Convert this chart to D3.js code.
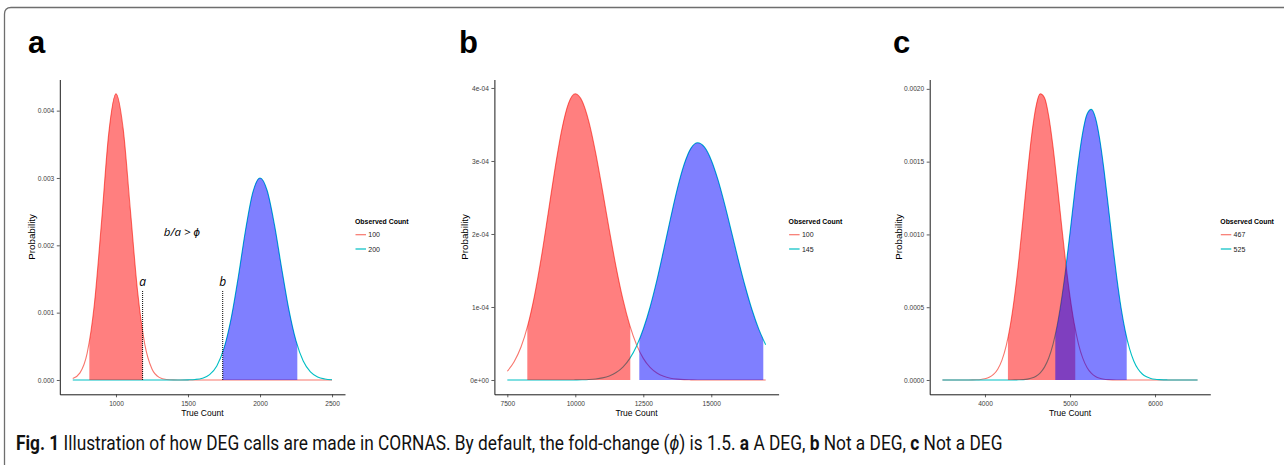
<!DOCTYPE html>
<html>
<head>
<meta charset="utf-8">
<script src="https://cdnjs.cloudflare.com/ajax/libs/d3/7.8.5/d3.min.js"></script>
<style>
body { margin: 0; background: #fff; }
svg { display: block; }
</style>
</head>
<body>
<div id="fig"></div>
<script>
// values (density of true count for each observed count)

// panel a
var aX = [700, 750, 800, 850, 900, 950, 1000, 1050, 1100, 1150, 1200, 1250, 1300, 1350, 1400, 1450,
  1500, 1550, 1600, 1650, 1700, 1750, 1800, 1850, 1900, 1950, 2000, 2050, 2100, 2150, 2200, 2250,
  2300, 2350, 2400, 2450, 2500];
var aRed = [2.1e-5, 1.06e-4, 4.0e-4, 1.125e-3, 2.354e-3, 3.667e-3, 4.25e-3, 3.73e-3, 2.525e-3, 1.317e-3,
  5.3e-4, 1.64e-4, 3.9e-5, 7e-6, 1e-6, 0, 0, 0, 0, 0, 0, 0, 0, 0, 0, 0, 0, 0, 0, 0, 0, 0, 0, 0, 0, 0, 0];
var aBlue = [0, 0, 0, 0, 0, 0, 0, 0, 0, 0, 0, 0, 0, 0, 0, 0, 2e-6, 7.5e-6, 2.6e-5, 8.0e-5, 2.09e-4,
  4.72e-4, 9.19e-4, 1.541e-3, 2.231e-3, 2.786e-3, 3.0e-3, 2.81e-3, 2.307e-3, 1.662e-3, 1.05e-3,
  5.81e-4, 2.82e-4, 1.2e-4, 4.5e-5, 1.5e-5, 4e-6];
var aRedFill = [815, 1185];
var aBlueFill = [1741, 2259];
var aLegend = ["100", "200"];
var aXTicks = [1000, 1500, 2000, 2500];
var aYTicks = [0, 0.001, 0.002, 0.003, 0.004];
var aYLabels = ["0.000", "0.001", "0.002", "0.003", "0.004"];
var aMarks = [{x: 1185, top: 0.00133, label: "a"}, {x: 1741, top: 0.00133, label: "b"}];
var aNote = {x: 1457, y: 0.0022};

// panel b
var bX = [7500, 7750, 8000, 8250, 8500, 8750, 9000, 9250, 9500, 9750, 10000, 10250, 10500, 10750,
  11000, 11250, 11500, 11750, 12000, 12250, 12500, 12750, 13000, 13250, 13500, 13750, 14000, 14250,
  14500, 14750, 15000, 15250, 15500, 15750, 16000, 16250, 16500, 16750, 17000];
var bRed = [1.2e-5, 2.5e-5, 4.48e-5, 7.45e-5, 1.157e-4, 1.679e-4, 2.279e-4, 2.889e-4, 3.423e-4, 3.789e-4,
  3.92e-4, 3.82e-4, 3.535e-4, 3.107e-4, 2.593e-4, 2.055e-4, 1.547e-4, 1.106e-4, 7.51e-5, 4.84e-5,
  2.96e-5, 1.72e-5, 9.5e-6, 5.0e-6, 2.5e-6, 1.2e-6, 5e-7, 2e-7, 0, 0, 0, 0, 0, 0, 0, 0, 0, 0, 0];
var bBlue = [0, 0, 0, 0, 0, 0, 0, 0, 0, 0, 1.3e-7, 3.1e-7, 6.9e-7, 1.45e-6, 2.92e-6, 5.6e-6, 1.02e-5,
  1.77e-5, 2.93e-5, 4.63e-5, 6.98e-5, 1.0e-4, 1.367e-4, 1.783e-4, 2.212e-4, 2.618e-4, 2.952e-4,
  3.173e-4, 3.25e-4, 3.189e-4, 3.011e-4, 2.737e-4, 2.395e-4, 2.018e-4, 1.636e-4, 1.277e-4, 9.59e-5,
  6.93e-5, 4.83e-5];
var bRedFill = [8235, 12022];
var bBlueFill = [12353, 16912];
var bLegend = ["100", "145"];
var bXTicks = [7500, 10000, 12500, 15000];
var bYTicks = [0, 1e-4, 2e-4, 3e-4, 4e-4];
var bYLabels = ["0e+00", "1e-04", "2e-04", "3e-04", "4e-04"];

// panel c
var cX = [3500, 3550, 3600, 3650, 3700, 3750, 3800, 3850, 3900, 3950, 4000, 4050, 4100, 4150, 4200,
  4250, 4300, 4350, 4400, 4450, 4500, 4550, 4600, 4650, 4700, 4750, 4800, 4850, 4900, 4950, 5000,
  5050, 5100, 5150, 5200, 5250, 5300, 5350, 5400, 5450, 5500, 5550, 5600, 5650, 5700, 5750, 5800,
  5850, 5900, 5950, 6000, 6050, 6100, 6150, 6200, 6250, 6300, 6350, 6400, 6450, 6500];
var cRed = [0, 0, 0, 0, 0, 0, 1.8e-7, 5.2e-7, 1.4e-6, 3.5e-6, 8.2e-6, 1.82e-5, 3.8e-5, 7.43e-5, 1.367e-4,
  2.36e-4, 3.83e-4, 5.84e-4, 8.35e-4, 1.123e-3, 1.419e-3, 1.684e-3, 1.878e-3, 1.966e-3, 1.939e-3,
  1.812e-3, 1.603e-3, 1.344e-3, 1.068e-3, 8.03e-4, 5.73e-4, 3.87e-4, 2.47e-4, 1.5e-4, 8.6e-5, 4.68e-5,
  2.41e-5, 1.18e-5, 5.4e-6, 2.4e-6, 1.0e-6, 4e-7, 1.5e-7, 0, 0, 0, 0, 0, 0, 0, 0, 0, 0, 0, 0, 0, 0,
  0, 0, 0, 0];
var cBlue = [0, 0, 0, 0, 0, 0, 0, 0, 0, 0, 0, 0, 0, 0, 0, 7e-8, 1.9e-7, 4.9e-7, 1.2e-6, 2.8e-6, 6.2e-6,
  1.3e-5, 2.6e-5, 4.92e-5, 8.84e-5, 1.51e-4, 2.45e-4, 3.77e-4, 5.52e-4, 7.66e-4, 1.01e-3, 1.266e-3,
  1.506e-3, 1.701e-3, 1.825e-3, 1.859e-3, 1.799e-3, 1.652e-3, 1.442e-3, 1.195e-3, 9.4e-4, 7.03e-4,
  4.98e-4, 3.36e-4, 2.15e-4, 1.31e-4, 7.5e-5, 4.1e-5, 2.15e-5, 1.06e-5, 5.0e-6, 2.2e-6, 9e-7, 4e-7,
  1.5e-7, 0, 0, 0, 0, 0, 0];
var cRedFill = [4270, 5062];
var cBlueFill = [4827, 5667];
var cLegend = ["467", "525"];
var cXTicks = [4000, 5000, 6000];
var cYTicks = [0, 0.0005, 0.001, 0.0015, 0.002];
var cYLabels = ["0.0000", "0.0005", "0.0010", "0.0015", "0.0020"];

var panels = [
  {letter: "a", x: aX, red: aRed, blue: aBlue, redFill: aRedFill, blueFill: aBlueFill, legend: aLegend,
    xTicks: aXTicks, yTicks: aYTicks, yLabels: aYLabels, marks: aMarks, note: aNote,
    left: 59.8, right: 345, letterX: 28},
  {letter: "b", x: bX, red: bRed, blue: bBlue, redFill: bRedFill, blueFill: bBlueFill, legend: bLegend,
    xTicks: bXTicks, yTicks: bYTicks, yLabels: bYLabels, marks: [], note: null,
    left: 494.4, right: 778.6, letterX: 459},
  {letter: "c", x: cX, red: cRed, blue: cBlue, redFill: cRedFill, blueFill: cBlueFill, legend: cLegend,
    xTicks: cXTicks, yTicks: cYTicks, yLabels: cYLabels, marks: [], note: null,
    left: 929.7, right: 1210.3, letterX: 893}
];

var W = 1284, H = 465, TOP = 79.5, BOTTOM = 394.3;
var RED_LINE = "#F8766D", BLUE_LINE = "#00BFC4";
var FONT = "'Liberation Sans', Arial, Helvetica, sans-serif";

var svg = d3.select("#fig").append("svg")
  .attr("width", W)
  .attr("height", H)
  .style("background", "#fff");

// figure frame
svg.append("path")
  .attr("d", "M4.5," + H + "V14Q4.5,7.5 11,7.5H" + W)
  .attr("fill", "none")
  .attr("stroke", "#6e6e6e")
  .attr("stroke-width", 1.3);

panels.forEach(function(p, pi) {
  var ymax = d3.max(p.red.concat(p.blue));
  var xext = d3.extent(p.x);
  var xpad = (xext[1] - xext[0]) * 0.05, ypad = ymax * 0.05;
  var x = d3.scaleLinear().domain([xext[0] - xpad, xext[1] + xpad]).range([p.left, p.right]);
  var y = d3.scaleLinear().domain([-ypad, ymax + ypad]).range([BOTTOM, TOP]);
  var g = svg.append("g");

  g.append("text")
    .attr("x", p.letterX)
    .attr("y", 53)
    .style("font-family", FONT)
    .style("font-weight", "bold")
    .style("font-size", "31px")
    .text(p.letter);

  var redPts = p.x.map(function(v, i) { return [v, p.red[i]]; });
  var bluePts = p.x.map(function(v, i) { return [v, p.blue[i]]; });

  var line = d3.line()
    .x(function(d) { return x(d[0]); })
    .y(function(d) { return y(d[1]); })
    .curve(d3.curveMonotoneX);
  var area = d3.area()
    .x(function(d) { return x(d[0]); })
    .y0(y(0))
    .y1(function(d) { return y(d[1]); })
    .curve(d3.curveMonotoneX);

  g.append("path").datum(redPts).attr("d", line)
    .attr("fill", "none").attr("stroke", RED_LINE).attr("stroke-width", 1.1);
  g.append("path").datum(bluePts).attr("d", line)
    .attr("fill", "none").attr("stroke", BLUE_LINE).attr("stroke-width", 1.1);

  // shaded intervals
  [[redPts, p.redFill, "#FF0000"], [bluePts, p.blueFill, "#0000FF"]].forEach(function(f, k) {
    var id = "clip" + pi + "_" + k;
    svg.append("clipPath").attr("id", id).append("rect")
      .attr("x", x(f[1][0]))
      .attr("width", x(f[1][1]) - x(f[1][0]))
      .attr("y", TOP - 5)
      .attr("height", BOTTOM - TOP + 5);
    g.append("path").datum(f[0]).attr("d", area)
      .attr("fill", f[2])
      .attr("fill-opacity", 0.5)
      .attr("clip-path", "url(#" + id + ")");
  });

  // dotted markers
  p.marks.forEach(function(m) {
    g.append("line")
      .attr("x1", x(m.x)).attr("x2", x(m.x))
      .attr("y1", y(0)).attr("y2", y(m.top))
      .attr("stroke", "#000")
      .attr("stroke-width", 1)
      .attr("stroke-dasharray", "1,1");
    g.append("text")
      .attr("x", x(m.x))
      .attr("y", y(m.top) - 4)
      .attr("text-anchor", "middle")
      .style("font-family", "'Open Sans', sans-serif")
      .style("font-style", "italic")
      .style("font-size", "12px")
      .text(m.label);
  });
  if (p.note) {
    g.append("text")
      .attr("x", x(p.note.x))
      .attr("y", y(p.note.y) + 4)
      .attr("text-anchor", "middle")
      .style("font-family", "'Open Sans', sans-serif")
      .style("font-style", "italic")
      .style("font-size", "11.5px")
      .text("b/a > \u03D5");
  }

  // axes
  var xa = g.append("g").attr("transform", "translate(0," + BOTTOM + ")")
    .call(d3.axisBottom(x).tickValues(p.xTicks).tickSize(3).tickSizeOuter(0)
      .tickPadding(4.5).tickFormat(d3.format("d")));
  var ya = g.append("g").attr("transform", "translate(" + p.left + ",0)")
    .call(d3.axisLeft(y).tickValues(p.yTicks).tickSize(3).tickSizeOuter(0)
      .tickPadding(2.5).tickFormat(function(d, i) { return p.yLabels[i]; }));
  [xa, ya].forEach(function(a) {
    a.select(".domain").attr("stroke", "#000").attr("stroke-width", 0.9);
    a.selectAll(".tick line").attr("stroke", "#333").attr("stroke-width", 0.8);
    a.selectAll(".tick text")
      .attr("fill", "#3d3d3d")
      .style("font-family", FONT)
      .style("font-size", "6.6px");
  });

  var labW = d3.max(ya.selectAll(".tick text").nodes(), function(n) { return n.getBBox().width; });
  var ytx = p.left - 3 - 2.5 - labW - 5.5;
  g.append("text")
    .attr("transform", "translate(" + ytx + "," + ((TOP + BOTTOM) / 2) + ") rotate(-90)")
    .attr("text-anchor", "middle")
    .attr("dy", "0.35em")
    .style("font-family", FONT)
    .style("font-size", "9.8px")
    .text("Probability");
  g.append("text")
    .attr("x", (p.left + p.right) / 2)
    .attr("y", 415.5)
    .attr("text-anchor", "middle")
    .style("font-family", FONT)
    .style("font-size", "8.5px")
    .text("True Count");

  // legend
  var lg = g.append("g").attr("transform", "translate(" + (p.right + 10) + ",0)");
  lg.append("text")
    .attr("x", 0).attr("y", 223.5)
    .style("font-family", FONT)
    .style("font-weight", "bold")
    .style("font-size", "6.9px")
    .text("Observed Count");
  [RED_LINE, BLUE_LINE].forEach(function(c, k) {
    var ly = 234.7 + k * 14.3;
    lg.append("line")
      .attr("x1", 0.5).attr("x2", 11)
      .attr("y1", ly).attr("y2", ly)
      .attr("stroke", c).attr("stroke-width", 1.2);
    lg.append("text")
      .attr("x", 13.3).attr("y", ly + 2.5)
      .attr("fill", "#1a1a1a")
      .style("font-family", FONT)
      .style("font-size", "7px")
      .text(p.legend[k]);
  });
});

// caption: size the font so the line spans the same width as in the figure,
// then stretch it a little vertically (the original face is condensed)
var CAP_W = 987;
var cap = svg.append("text")
  .attr("x", 0)
  .attr("y", 0)
  .attr("transform", "translate(16,449.5) scale(1,1.12)")
  .style("font-family", "Roboto, 'Open Sans', sans-serif")
  .style("font-size", "17px")
  .attr("fill", "#111");
[["Fig. 1", "bold", "normal"],
 [" Illustration of how DEG calls are made in CORNAS. By default, the fold-change (", "normal", "normal"],
 ["\u03D5", "normal", "italic"],
 [") is 1.5. ", "normal", "normal"],
 ["a", "bold", "normal"], [" A DEG, ", "normal", "normal"],
 ["b", "bold", "normal"], [" Not a DEG, ", "normal", "normal"],
 ["c", "bold", "normal"], [" Not a DEG", "normal", "normal"]
].forEach(function(s) {
  cap.append("tspan")
    .style("font-weight", s[1])
    .style("font-style", s[2])
    .text(s[0]);
});
var capW = cap.node().getComputedTextLength();
cap.style("font-size", (17 * CAP_W / capW).toFixed(2) + "px");
</script>
</body>
</html>
